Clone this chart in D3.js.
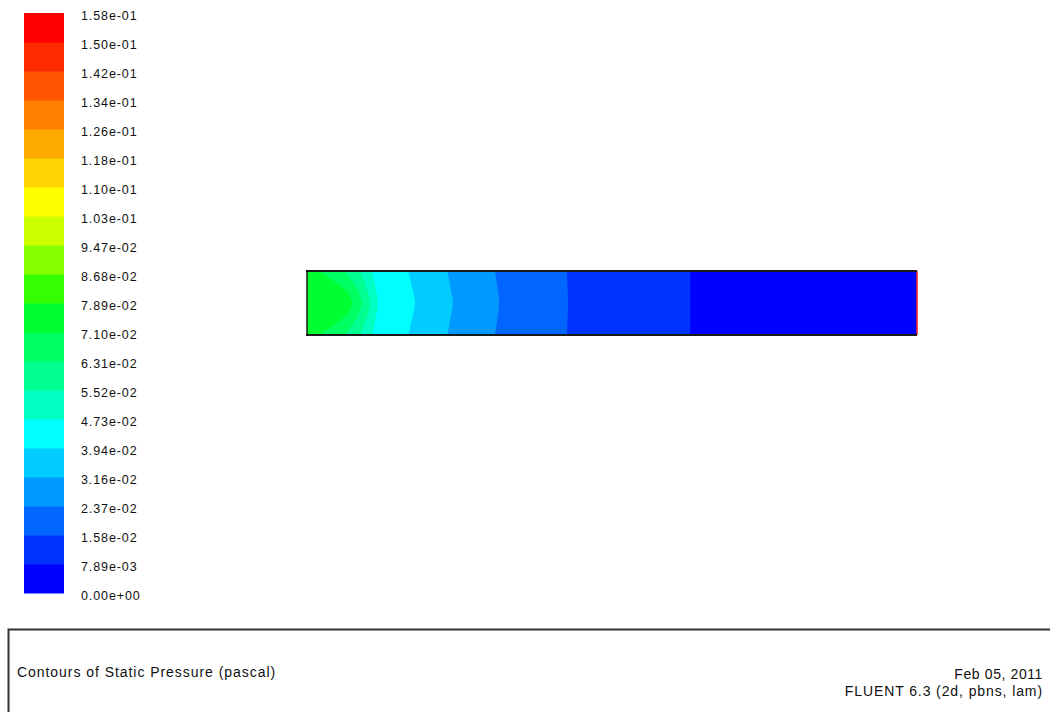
<!DOCTYPE html>
<html>
<head>
<meta charset="utf-8">
<script src="https://cdn.jsdelivr.net/npm/d3@7/dist/d3.min.js"></script>
<style>
  html, body { margin: 0; padding: 0; background: #fff; }
  svg { display: block; }
</style>
</head>
<body>
<svg id="chart" width="1050" height="712"></svg>
<script>
// ---- Data ----
// Legend tick labels (top to bottom)
const tickLabels = ["1.58e-01","1.50e-01","1.42e-01","1.34e-01","1.26e-01","1.18e-01","1.10e-01","1.03e-01",
  "9.47e-02","8.68e-02","7.89e-02","7.10e-02","6.31e-02","5.52e-02","4.73e-02","3.94e-02",
  "3.16e-02","2.37e-02","1.58e-02","7.89e-03","0.00e+00"];
// Colormap bands (bottom = band 1 to top = band 20)
const bandColors = ["#0000ff","#0033ff","#0066ff","#0099ff","#00ccff","#00ffff","#00ffc0","#00ff90","#00ff60","#00ff30",
  "#33ff00","#88ff00","#ccff00","#ffff00","#ffd400","#ffaa00","#ff8000","#ff5500","#ff2b00","#ff0000"];
// Contour isolines in the tube: band left of the isoline, axial position (0..1) at wall, quarter-height and centerline
const isoBand    = [2, 3, 4, 5, 6, 7, 8, 9, 10];
const isoWall    = [0.628, 0.426, 0.308, 0.230, 0.166, 0.107, 0.087, 0.062, 0.018];
const isoQuarter = [0.628, 0.427, 0.312, 0.235, 0.172, 0.112, 0.097, 0.080, 0.057];
const isoCenter  = [0.628, 0.428, 0.315, 0.239, 0.177, 0.116, 0.103, 0.090, 0.074];
const baseBand = 1;
const titleText = "Contours of Static Pressure (pascal)";
const dateText = "Feb 05, 2011";
const versionText = "FLUENT 6.3 (2d, pbns, lam)";

// ---- Drawing ----
const svg = d3.select("#chart");
const FONT = "Liberation Sans, Arial, sans-serif";

// Legend
const nb = bandColors.length;
const legendY = d3.scaleLinear().domain([0, nb]).range([593, 13]); // band index -> y
const legend = svg.append("g");
legend.selectAll("rect.band").data(bandColors).join("rect")
  .attr("class", "band")
  .attr("x", 24).attr("width", 40)
  .attr("y", (d, i) => legendY(i + 1))
  .attr("height", (d, i) => legendY(i) - legendY(i + 1) + 0.5)
  .attr("fill", d => d);

const labelY = d3.scaleLinear().domain([0, tickLabels.length - 1]).range([13, 593]);
legend.selectAll("text.tick").data(tickLabels).join("text")
  .attr("class", "tick")
  .attr("x", 81)
  .attr("y", (d, i) => labelY(i) + 3)
  .attr("dy", "0.35em")
  .attr("font-family", FONT)
  .attr("font-size", 12.5)
  .attr("letter-spacing", 0.9)
  .attr("fill", "#111")
  .text(d => d);

// Tube domain
const xs = d3.scaleLinear().domain([0, 1]).range([307, 917]);
const ys = d3.scaleLinear().domain([-0.5, 0.5]).range([271, 335]);
const tube = svg.append("g");
tube.append("rect")
  .attr("x", xs(0)).attr("y", ys(-0.5))
  .attr("width", xs(1) - xs(0)).attr("height", ys(0.5) - ys(-0.5))
  .attr("fill", bandColors[baseBand - 1]);

const profY = [-0.5, -0.25, 0, 0.25, 0.5];
const isoData = isoBand.map((b, i) => ({
  band: b,
  pts: [isoWall[i], isoQuarter[i], isoCenter[i], isoQuarter[i], isoWall[i]].map((x, j) => ({x, y: profY[j]}))
}));
const area = d3.area()
  .y(d => ys(d.y))
  .x0(xs(0))
  .x1(d => xs(d.x))
  .curve(d3.curveMonotoneY);
tube.selectAll("path.band").data(isoData).join("path")
  .attr("class", "band")
  .attr("d", d => area(d.pts))
  .attr("fill", d => bandColors[d.band - 1]);

// outlet edge (red)
tube.append("line")
  .attr("x1", xs(1)).attr("x2", xs(1))
  .attr("y1", ys(-0.5)).attr("y2", ys(0.5))
  .attr("stroke", "#ff2020").attr("stroke-width", 1.5);
// walls
tube.append("line").attr("x1", xs(0) - 1).attr("x2", xs(1))
  .attr("y1", ys(-0.5)).attr("y2", ys(-0.5)).attr("stroke", "#1a1a1a").attr("stroke-width", 2);
tube.append("line").attr("x1", xs(0) - 1).attr("x2", xs(1))
  .attr("y1", ys(0.5)).attr("y2", ys(0.5)).attr("stroke", "#1a1a1a").attr("stroke-width", 2);
tube.append("line").attr("x1", xs(0)).attr("x2", xs(0))
  .attr("y1", ys(-0.5)).attr("y2", ys(0.5)).attr("stroke", "#1a1a1a").attr("stroke-width", 1.5);

// Bottom info panel
const panel = svg.append("g");
panel.append("path")
  .attr("d", "M8.5,712 L8.5,629.5 L1050,629.5")
  .attr("fill", "none").attr("stroke", "#333").attr("stroke-width", 2);
panel.append("text")
  .attr("x", 17).attr("y", 672).attr("dy", "0.35em")
  .attr("font-family", FONT)
  .attr("font-size", 14).attr("letter-spacing", 0.95).attr("fill", "#111")
  .text(titleText);
panel.append("text")
  .attr("x", 1043).attr("y", 674).attr("dy", "0.35em").attr("text-anchor", "end")
  .attr("font-family", FONT)
  .attr("font-size", 14).attr("letter-spacing", 0.6).attr("fill", "#111")
  .text(dateText);
panel.append("text")
  .attr("x", 1043).attr("y", 691).attr("dy", "0.35em").attr("text-anchor", "end")
  .attr("font-family", FONT)
  .attr("font-size", 14).attr("letter-spacing", 0.9).attr("fill", "#111")
  .text(versionText);
</script>
</body>
</html>
